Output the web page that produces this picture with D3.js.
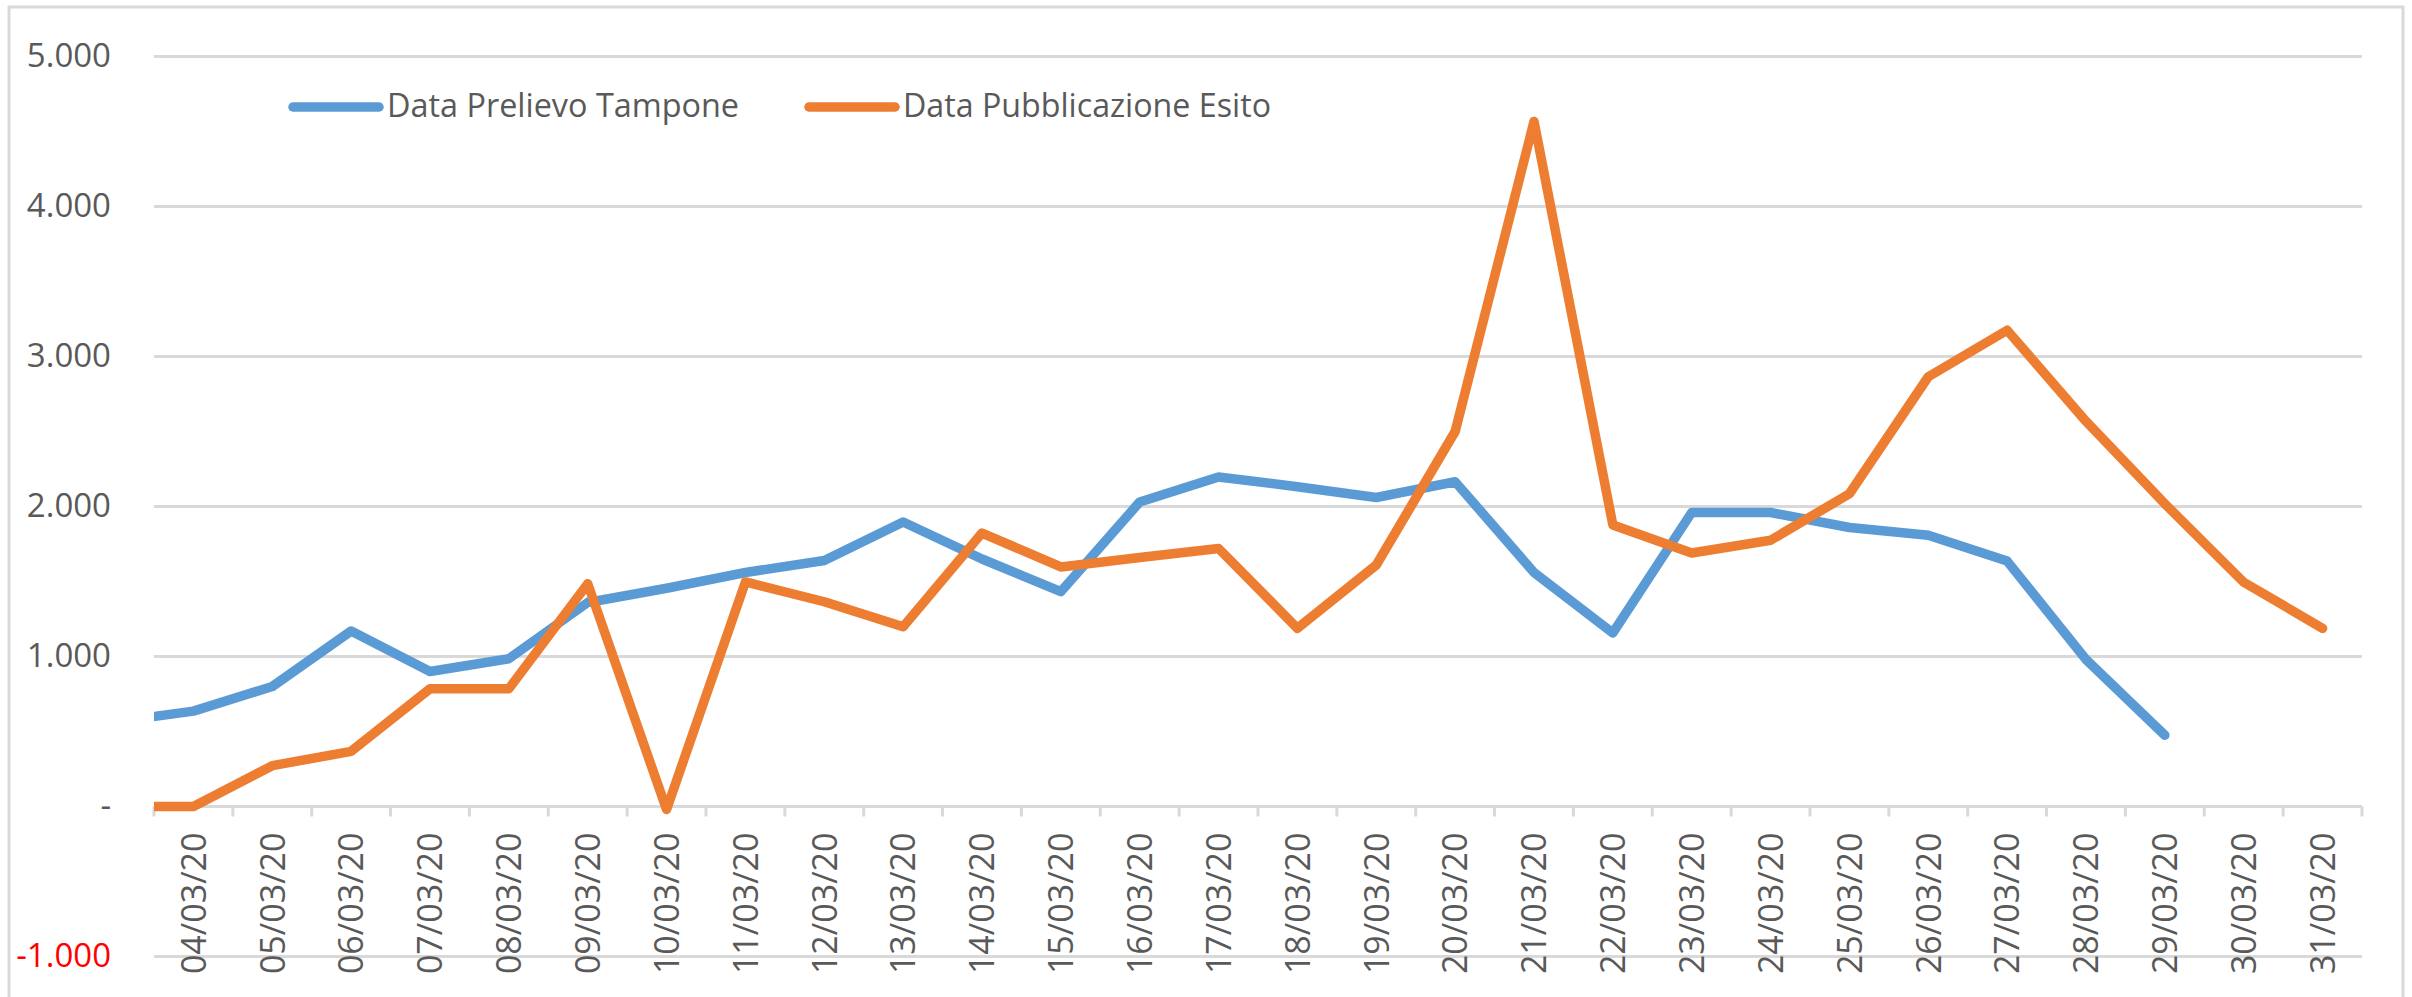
<!DOCTYPE html>
<html>
<head>
<meta charset="utf-8">
<script src="https://d3js.org/d3.v7.min.js"></script>
<style>
    body {
        margin: 0;
        background: #ffffff;
    }

    text {
        font-family: "Open Sans", sans-serif;
        fill: #595959;
    }
</style>
</head>
<body>
<script>

    // 03/03 sits just left of the plot edge, only its segment is visible
    var dates = ["03/03/20", "04/03/20", "05/03/20", "06/03/20", "07/03/20", "08/03/20", "09/03/20",
        "10/03/20", "11/03/20", "12/03/20", "13/03/20", "14/03/20", "15/03/20", "16/03/20",
        "17/03/20", "18/03/20", "19/03/20", "20/03/20", "21/03/20", "22/03/20", "23/03/20",
        "24/03/20", "25/03/20", "26/03/20", "27/03/20", "28/03/20", "29/03/20", "30/03/20", "31/03/20"];

    var prelievoTampone = [564, 636, 800, 1170, 900, 985, 1360, 1455, 1560, 1640, 1897, 1650, 1432,
        2030, 2197, 2132, 2060, 2165, 1560, 1157, 1960, 1960, 1860, 1808, 1636, 980, 475, null, null];

    var pubblicazioneEsito = [0, 0, 272, 368, 785, 785, 1485, -20, 1497, 1365, 1198, 1823, 1597,
        1660, 1720, 1188, 1610, 2500, 4567, 1877, 1690, 1775, 2085, 2865, 3175, 2568, 2018, 1495, 1188];

    var yTicks = [-1000, 0, 1000, 2000, 3000, 4000, 5000];

    var seriesNames = ["Data Prelievo Tampone", "Data Pubblicazione Esito"];
    var seriesColors = ["#5B9BD5", "#ED7D31"];

    var width = 2412, height = 997;
    var plot = { left: 154, right: 2362, top: 56.5, bottom: 956.5 };

    var svg = d3.select("body").append("svg")
        .attr("width", width)
        .attr("height", height);

    // chart area border
    svg.append("rect")
        .attr("x", 9)
        .attr("y", 7)
        .attr("width", 2394)
        .attr("height", 1020)
        .attr("fill", "none")
        .attr("stroke", "#d9d9d9")
        .attr("stroke-width", 3);

    var shown = dates.slice(1);

    var xScale = d3.scaleBand()
        .domain(shown)
        .range([plot.left, plot.right]);

    function xPos(i) {
        // index in dates, 0 = hidden 03/03
        return xScale(shown[0]) + (i - 1 + 0.5) * xScale.step();
    }

    var yScale = d3.scaleLinear()
        .domain([-1000, 5000])
        .range([plot.bottom, plot.top]);

    // gridlines
    svg.selectAll(".grid")
        .data(yTicks)
        .enter().append("line")
        .attr("class", "grid")
        .attr("x1", plot.left)
        .attr("x2", plot.right)
        .attr("y1", function (d) { return yScale(d); })
        .attr("y2", function (d) { return yScale(d); })
        .attr("stroke", "#d9d9d9")
        .attr("stroke-width", 3);

    // y labels, italian number format
    var it = d3.formatLocale({ decimal: ",", thousands: ".", grouping: [3], currency: ["€", ""], minus: "-" });
    var fmt = it.format(",");

    var yAxis = d3.axisLeft(yScale)
        .tickValues(yTicks)
        .tickSize(0)
        .tickPadding(0)
        .tickFormat(function (d) { return d === 0 ? "-" : fmt(d); });

    var gy = svg.append("g")
        .attr("transform", "translate(111,0)")
        .call(yAxis);
    gy.select(".domain").remove();
    gy.selectAll("text")
        .attr("dy", null)
        .attr("y", 10)
        .style("font-size", "33px")
        .style("fill", function (d) { return d < 0 ? "#ff0000" : "#595959"; })
        .attr("font-family", null);

    // category tick marks on the zero line
    var y0 = yScale(0);
    svg.selectAll(".xtick")
        .data(d3.range(shown.length + 1))
        .enter().append("line")
        .attr("class", "xtick")
        .attr("x1", function (i) { return plot.left + i * xScale.step(); })
        .attr("x2", function (i) { return plot.left + i * xScale.step(); })
        .attr("y1", y0)
        .attr("y2", y0 + 10)
        .attr("stroke", "#d9d9d9")
        .attr("stroke-width", 3);

    // category labels
    svg.selectAll(".xlabel")
        .data(shown)
        .enter().append("text")
        .attr("class", "xlabel")
        .attr("transform", function (d) {
            return "translate(" + (xScale(d) + xScale.bandwidth() / 2) + "," + (y0 + 26) + ") rotate(-90)";
        })
        .attr("dy", "0.36em")
        .style("text-anchor", "end")
        .style("font-size", "34px")
        .text(function (d) { return d; });

    // lines
    svg.append("clipPath")
        .attr("id", "plotClip")
        .append("rect")
        .attr("x", plot.left)
        .attr("y", 0)
        .attr("width", plot.right - plot.left)
        .attr("height", height);

    var line = d3.line()
        .defined(function (d) { return d != null; })
        .x(function (d, i) { return xPos(i); })
        .y(function (d) { return yScale(d); });

    var series = [prelievoTampone, pubblicazioneEsito];

    svg.append("g")
        .attr("clip-path", "url(#plotClip)")
        .selectAll("path")
        .data(series)
        .enter().append("path")
        .attr("d", line)
        .attr("fill", "none")
        .attr("stroke", function (d, i) { return seriesColors[i]; })
        .attr("stroke-width", 9.5)
        .attr("stroke-linejoin", "round")
        .attr("stroke-linecap", "round");

    // legend
    var legendX = [293, 809];
    var legendW = [352, 368];

    var legend = svg.selectAll(".legend")
        .data(seriesNames)
        .enter().append("g")
        .attr("class", "legend")
        .attr("transform", function (d, i) { return "translate(" + legendX[i] + ",107)"; });

    legend.append("line")
        .attr("x1", 0)
        .attr("x2", 86)
        .attr("stroke", function (d, i) { return seriesColors[i]; })
        .attr("stroke-width", 9.5)
        .attr("stroke-linecap", "round");

    legend.append("text")
        .attr("x", 94)
        .attr("y", 10)
        .attr("textLength", function (d, i) { return legendW[i]; })
        .attr("lengthAdjust", "spacingAndGlyphs")
        .style("font-size", "33px")
        .text(function (d) { return d; });

</script>
</body>
</html>
